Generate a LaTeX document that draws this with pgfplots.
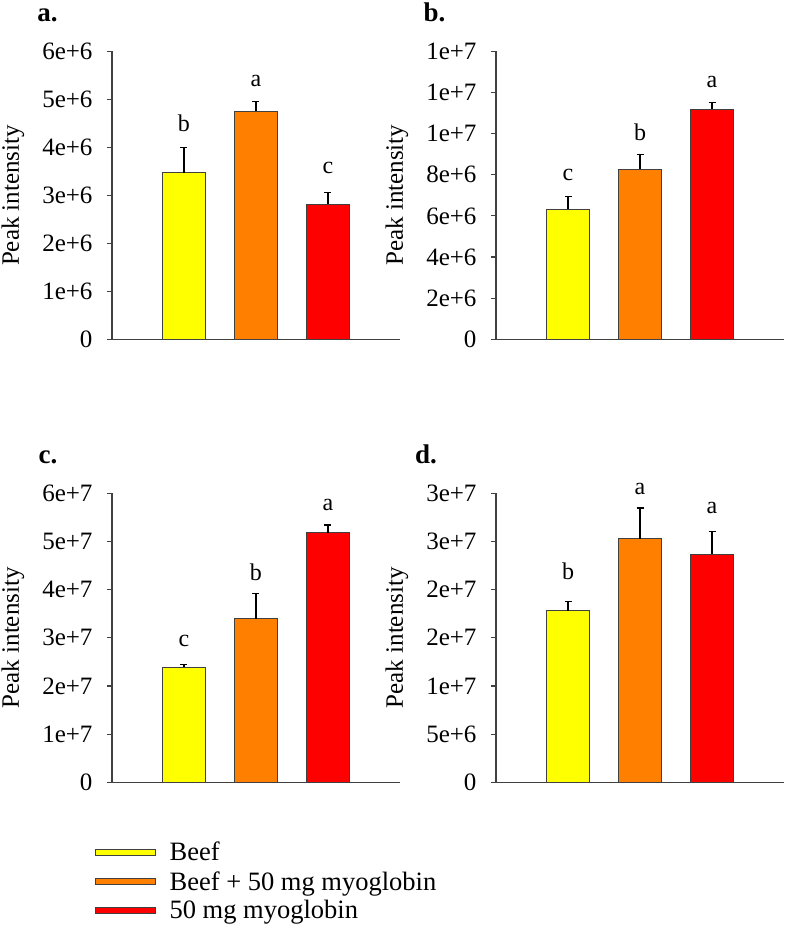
\documentclass[border=0pt]{standalone}
\usepackage{pgfplots}
\pgfplotsset{compat=1.18}
\usepackage{fontspec}
\setmainfont{Liberation Serif}

\definecolor{cbeef}{HTML}{FFFF00}
\definecolor{cmix}{HTML}{FF8000}
\definecolor{cmyo}{HTML}{FF0000}
\definecolor{axgray}{HTML}{404040}

\pgfplotsset{
  panel/.style={
    scale only axis, width=288pt, height=288pt,
    xmin=0, xmax=4, ymin=0,
    axis x line*=bottom, axis y line*=left,
    axis line style={axgray, line width=1.2pt},
    xtick=\empty,
    tick align=outside, major tick length=5pt,
    every tick/.style={axgray, line width=1.2pt},
    yticklabel style={xshift=-11pt},
    font=\fontsize{25}{30}\selectfont,
    ylabel={Peak intensity},
    every axis y label/.style={at={(axis description cs:-0.344,0.5)}, rotate=90, anchor=center},
    clip=false,
    scaled y ticks=false,
  },
  pbar/.style={ybar, bar width=43pt, bar shift=0pt, draw=axgray, line width=0.6pt, fill=#1,
    legend image code/.code={\draw[fill=#1, draw=axgray, line width=0.6pt] (0pt,-3pt) rectangle (60pt,3pt);},
    error bars/.cd, y dir=plus, y explicit,
    error mark=-,
    error bar style={black, line width=1.2pt},
    error mark options={rotate=90, black, line width=1.2pt, mark size=3.5pt}},
}
\tikzset{
  plab/.style={anchor=base west, font=\fontsize{27}{30}\selectfont\bfseries},
  lett/.style={anchor=base, font=\fontsize{24}{28}\selectfont},
}

\begin{document}
\begin{tikzpicture}
\path[use as bounding box] (0pt,0pt) rectangle (787pt,929pt);

% a.
\begin{axis}[panel, at={(112pt,589.5pt)}, anchor=south west, ymax=6e6,
  ytick={0,1e6,2e6,3e6,4e6,5e6,6e6},
  yticklabels={0,1e+6,2e+6,3e+6,4e+6,5e+6,6e+6}]
\addplot[pbar=cbeef] coordinates {(1,3.475e6) +- (0,0.525e6)};
\addplot[pbar=cmix] coordinates {(2,4.75e6) +- (0,0.20e6)};
\addplot[pbar=cmyo] coordinates {(3,2.82e6) +- (0,0.24e6)};
\node[lett] at (axis cs:1,4.33e6) {b};
\node[lett] at (axis cs:2,5.28e6) {a};
\node[lett] at (axis cs:3,3.46e6) {c};
\node[plab] at (axis description cs:-0.271,1.1035) {a.};
\end{axis}

% b.
\begin{axis}[panel, at={(496pt,589.7pt)}, anchor=south west, ymax=1.4e7,
  ytick={0,2e6,4e6,6e6,8e6,1e7,1.2e7,1.4e7},
  yticklabels={0,2e+6,4e+6,6e+6,8e+6,1e+7,1e+7,1e+7}]
\addplot[pbar=cbeef] coordinates {(1,6.34e6) +- (0,0.59e6)};
\addplot[pbar=cmix] coordinates {(2,8.27e6) +- (0,0.73e6)};
\addplot[pbar=cmyo] coordinates {(3,11.18e6) +- (0,0.32e6)};
\node[lett] at (axis cs:1,7.73e6) {c};
\node[lett] at (axis cs:2,9.67e6) {b};
\node[lett] at (axis cs:3,12.23e6) {a};
\node[plab] at (axis description cs:-0.264,1.102) {b.};
\end{axis}

% c.
\begin{axis}[panel, at={(112pt,146.7pt)}, anchor=south west, height=289pt, ymax=6e7,
  ytick={0,1e7,2e7,3e7,4e7,5e7,6e7},
  yticklabels={0,1e+7,2e+7,3e+7,4e+7,5e+7,6e+7},
  legend style={at={(axis description cs:-0.07,-0.193)}, anchor=north west,
    draw=none, fill=none, font=\fontsize{26.5}{28}\selectfont,
    cells={anchor=west}, row sep=5pt, column sep=12pt}]
\addplot[pbar=cbeef] coordinates {(1,2.39e7) +- (0,0.06e7)};
\addplot[pbar=cmix] coordinates {(2,3.40e7) +- (0,0.52e7)};
\addplot[pbar=cmyo] coordinates {(3,5.18e7) +- (0,0.16e7)};
\legend{Beef, Beef + 50 mg myoglobin, 50 mg myoglobin}
\node[lett] at (axis cs:1,2.81e7) {c};
\node[lett] at (axis cs:2,4.20e7) {b};
\node[lett] at (axis cs:3,5.65e7) {a};
\node[plab] at (axis description cs:-0.267,1.102) {c.};
\end{axis}

% d.
\begin{axis}[panel, at={(496pt,146.7pt)}, anchor=south west, height=289pt, ymax=3e7,
  ytick={0,5e6,1e7,1.5e7,2e7,2.5e7,3e7},
  yticklabels={0,5e+6,1e+7,2e+7,2e+7,3e+7,3e+7}]
\addplot[pbar=cbeef] coordinates {(1,17.82e6) +- (0,0.93e6)};
\addplot[pbar=cmix] coordinates {(2,25.29e6) +- (0,3.19e6)};
\addplot[pbar=cmyo] coordinates {(3,23.70e6) +- (0,2.32e6)};
\node[lett] at (axis cs:1,21.08e6) {b};
\node[lett] at (axis cs:2,29.83e6) {a};
\node[lett] at (axis cs:3,27.86e6) {a};
\node[plab] at (axis description cs:-0.293,1.102) {d.};
\end{axis}
\end{tikzpicture}
\end{document}
